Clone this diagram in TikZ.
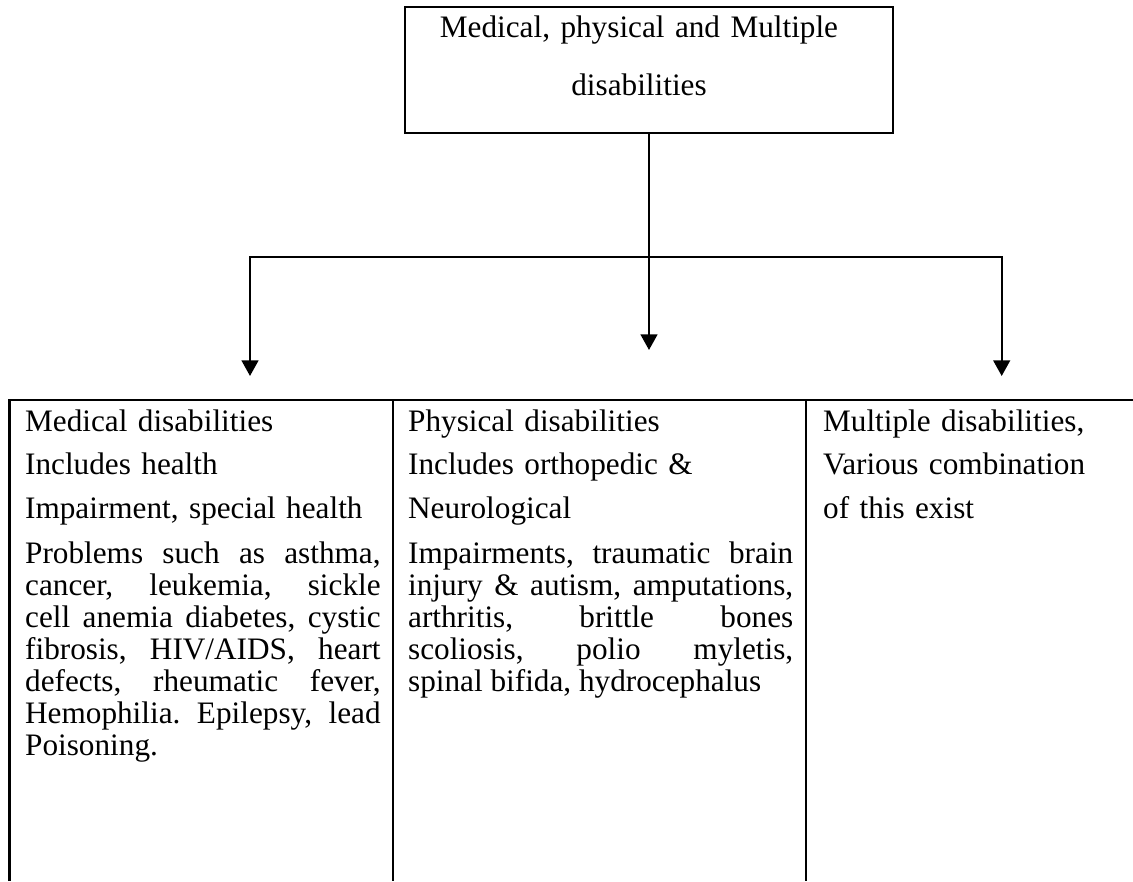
\documentclass[tikz,border=0pt]{standalone}
\usepackage{fontspec}
\setmainfont{Liberation Serif}
\usetikzlibrary{arrows.meta}
\frenchspacing

\begin{document}
\begin{tikzpicture}[x=0.0135cm,y=-0.0135cm,line width=0.9pt]
	\useasboundingbox (0,0) rectangle (1133,881);

	% top box
	\node[draw,minimum width=6.588cm,minimum height=1.701cm] (top) at (649,70) {};
	\node[inner sep=0pt,anchor=base,text width=6.5cm,align=center,
	      font=\fontsize{12}{22.3}\selectfont] (toptext) at (639,37)
	      {Medical, physical and Multiple\\disabilities};

	% table
	\draw (9.5,881) -- (9.5,400) -- (1133,400);
	\draw (393,400) -- (393,881);
	\draw (806,400) -- (806,881);

	\begin{scope}[every node/.style={inner sep=0pt,anchor=base west,align=left,
	              font=\fontsize{12}{16.9}\selectfont}]
	    \node[text width=4.78cm] (medhead) at (24,431)
	        {Medical disabilities\\Includes health\\Impairment, special health};
	    \node[text width=5.2cm] (phyhead) at (407,431)
	        {Physical disabilities\\Includes orthopedic \&\\Neurological};
	    \node[text width=4cm] (mulhead) at (822,431)
	        {Multiple disabilities,\\Various combination\\of this exist};
	\end{scope}

	\begin{scope}[every node/.style={inner sep=0pt,anchor=base west,align=justify,
	              font=\fontsize{12}{12.3}\selectfont}]
	    \node[text width=4.8cm] (medbody) at (24,563)
	        {Problems such as asthma,\linebreak cancer, leukemia, sickle\linebreak
	         cell anemia diabetes, cystic\linebreak fibrosis, HIV/AIDS, heart\linebreak
	         defects, rheumatic fever,\linebreak Hemophilia. Epilepsy, lead\linebreak
	         Poisoning.};
	    \node[text width=5.2cm] (phybody) at (407,563)
	        {Impairments, traumatic brain\linebreak injury \& autism, amputations,\linebreak
	         arthritis, brittle bones\linebreak scoliosis, polio myletis,\linebreak
	         spinal bifida, hydrocephalus};
	\end{scope}

	% arrows
	\coordinate (fork) at (649,257);
	\coordinate (forkl) at (250,257);
	\coordinate (forkr) at (1001.7,257);
	\coordinate (medtip) at (250,376);
	\coordinate (phytip) at (649,350);
	\coordinate (multip) at (1001.7,376);

	\begin{scope}[>={Triangle[width=6.4pt,length=6pt]}]
	    \draw[->] (top.south) -- (phytip);
	    \draw[<->] (medtip) -- (forkl) -- (forkr) -- (multip);
	\end{scope}
\end{tikzpicture}
\end{document}
